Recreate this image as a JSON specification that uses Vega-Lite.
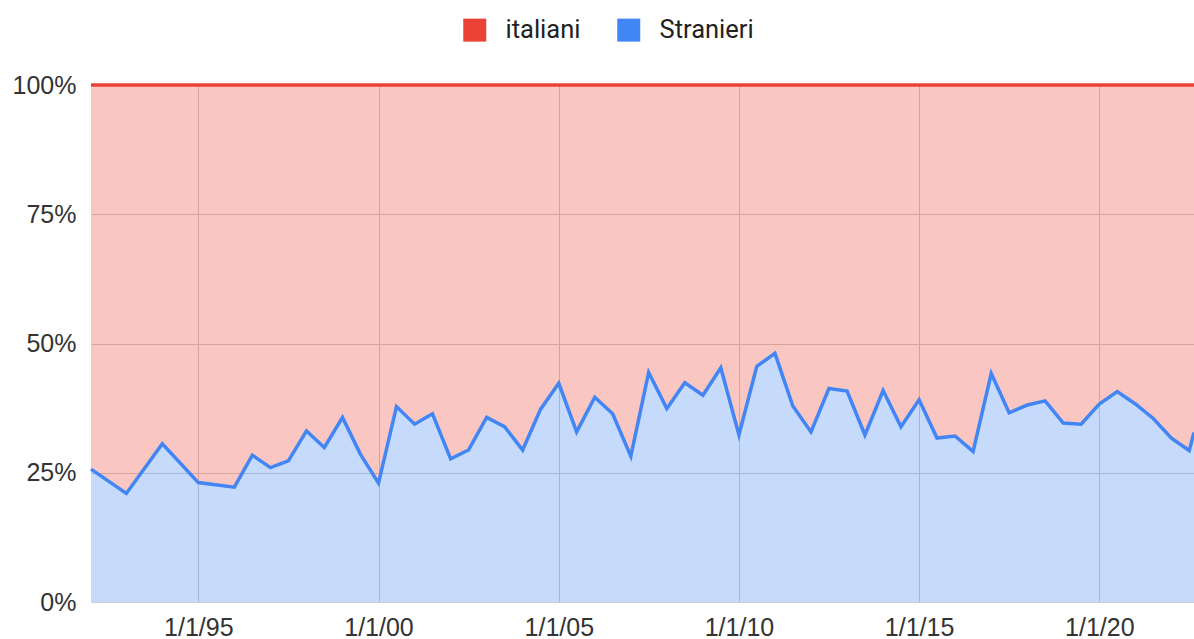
{
  "$schema": "https://vega.github.io/schema/vega-lite/v6.json",
  "width": 1103,
  "height": 517,
  "autosize": {"type": "none"},
  "padding": {"left": 91, "top": 85, "right": 0, "bottom": 37},
  "background": "white",
  "data": {
    "values": [
      {"data": "1992-01-09", "Stranieri": 25.7, "italiani": 74.3},
      {"data": "1993-01-01", "Stranieri": 21.0, "italiani": 79.0},
      {"data": "1994-01-01", "Stranieri": 30.6, "italiani": 69.4},
      {"data": "1995-01-01", "Stranieri": 23.1, "italiani": 76.9},
      {"data": "1996-01-01", "Stranieri": 22.2, "italiani": 77.8},
      {"data": "1996-07-01", "Stranieri": 28.4, "italiani": 71.6},
      {"data": "1997-01-01", "Stranieri": 26.0, "italiani": 74.0},
      {"data": "1997-07-01", "Stranieri": 27.3, "italiani": 72.7},
      {"data": "1998-01-01", "Stranieri": 33.1, "italiani": 66.9},
      {"data": "1998-07-01", "Stranieri": 29.9, "italiani": 70.1},
      {"data": "1999-01-01", "Stranieri": 35.7, "italiani": 64.3},
      {"data": "1999-07-01", "Stranieri": 28.6, "italiani": 71.4},
      {"data": "2000-01-01", "Stranieri": 23.0, "italiani": 77.0},
      {"data": "2000-07-01", "Stranieri": 37.8, "italiani": 62.2},
      {"data": "2001-01-01", "Stranieri": 34.4, "italiani": 65.6},
      {"data": "2001-07-01", "Stranieri": 36.4, "italiani": 63.6},
      {"data": "2002-01-01", "Stranieri": 27.7, "italiani": 72.3},
      {"data": "2002-07-01", "Stranieri": 29.4, "italiani": 70.6},
      {"data": "2003-01-01", "Stranieri": 35.7, "italiani": 64.3},
      {"data": "2003-07-01", "Stranieri": 33.9, "italiani": 66.1},
      {"data": "2004-01-01", "Stranieri": 29.4, "italiani": 70.6},
      {"data": "2004-07-01", "Stranieri": 37.3, "italiani": 62.7},
      {"data": "2005-01-01", "Stranieri": 42.3, "italiani": 57.7},
      {"data": "2005-07-01", "Stranieri": 32.9, "italiani": 67.1},
      {"data": "2006-01-01", "Stranieri": 39.6, "italiani": 60.4},
      {"data": "2006-07-01", "Stranieri": 36.4, "italiani": 63.6},
      {"data": "2007-01-01", "Stranieri": 28.2, "italiani": 71.8},
      {"data": "2007-07-01", "Stranieri": 44.4, "italiani": 55.6},
      {"data": "2008-01-01", "Stranieri": 37.4, "italiani": 62.6},
      {"data": "2008-07-01", "Stranieri": 42.4, "italiani": 57.6},
      {"data": "2009-01-01", "Stranieri": 40.0, "italiani": 60.0},
      {"data": "2009-07-01", "Stranieri": 45.3, "italiani": 54.7},
      {"data": "2010-01-01", "Stranieri": 32.3, "italiani": 67.7},
      {"data": "2010-07-01", "Stranieri": 45.6, "italiani": 54.4},
      {"data": "2011-01-01", "Stranieri": 48.1, "italiani": 51.9},
      {"data": "2011-07-01", "Stranieri": 37.9, "italiani": 62.1},
      {"data": "2012-01-01", "Stranieri": 32.9, "italiani": 67.1},
      {"data": "2012-07-01", "Stranieri": 41.3, "italiani": 58.7},
      {"data": "2013-01-01", "Stranieri": 40.8, "italiani": 59.2},
      {"data": "2013-07-01", "Stranieri": 32.3, "italiani": 67.7},
      {"data": "2014-01-01", "Stranieri": 40.9, "italiani": 59.1},
      {"data": "2014-07-01", "Stranieri": 33.9, "italiani": 66.1},
      {"data": "2015-01-01", "Stranieri": 39.1, "italiani": 60.9},
      {"data": "2015-07-01", "Stranieri": 31.7, "italiani": 68.3},
      {"data": "2016-01-01", "Stranieri": 32.1, "italiani": 67.9},
      {"data": "2016-07-01", "Stranieri": 29.1, "italiani": 70.9},
      {"data": "2017-01-01", "Stranieri": 44.2, "italiani": 55.8},
      {"data": "2017-07-01", "Stranieri": 36.6, "italiani": 63.4},
      {"data": "2018-01-01", "Stranieri": 38.1, "italiani": 61.9},
      {"data": "2018-07-01", "Stranieri": 38.9, "italiani": 61.1},
      {"data": "2019-01-01", "Stranieri": 34.6, "italiani": 65.4},
      {"data": "2019-07-01", "Stranieri": 34.4, "italiani": 65.6},
      {"data": "2020-01-01", "Stranieri": 38.3, "italiani": 61.7},
      {"data": "2020-07-01", "Stranieri": 40.7, "italiani": 59.3},
      {"data": "2021-01-01", "Stranieri": 38.3, "italiani": 61.7},
      {"data": "2021-07-01", "Stranieri": 35.5, "italiani": 64.5},
      {"data": "2022-01-01", "Stranieri": 31.7, "italiani": 68.3},
      {"data": "2022-07-01", "Stranieri": 29.3, "italiani": 70.7},
      {"data": "2022-08-18", "Stranieri": 32.8, "italiani": 67.2}
    ]
  },
  "transform": [{"fold": ["italiani", "Stranieri"], "as": ["gruppo", "quota"]}],
  "mark": {"type": "area", "fillOpacity": 0.3, "line": {"strokeWidth": 3.5}},
  "encoding": {
    "x": {
      "field": "data",
      "type": "temporal",
      "scale": {"domain": ["1992-01-09", "2022-08-18"]},
      "axis": {
        "title": null,
        "format": "%-m/%-d/%y",
        "values": ["1995-01-01", "2000-01-01", "2005-01-01", "2010-01-01", "2015-01-01", "2020-01-01"],
        "ticks": false,
        "domain": false,
        "grid": true,
        "gridColor": "#cccccc",
        "gridWidth": 1,
        "labelFont": "Liberation Sans",
        "labelFontSize": 25,
        "labelColor": "#333333",
        "labelPadding": 13
      }
    },
    "y": {
      "field": "quota",
      "type": "quantitative",
      "stack": "normalize",
      "scale": {"domain": [0, 1]},
      "axis": {
        "title": null,
        "values": [0, 0.25, 0.5, 0.75, 1],
        "format": ".0%",
        "ticks": false,
        "domain": false,
        "grid": true,
        "gridColor": "#cccccc",
        "gridWidth": 1,
        "labelFont": "Liberation Sans",
        "labelFontSize": 25,
        "labelColor": "#333333",
        "labelPadding": 15
      }
    },
    "color": {
      "field": "gruppo",
      "type": "nominal",
      "scale": {"domain": ["italiani", "Stranieri"], "range": ["#ea4335", "#4285f4"]},
      "legend": {
        "orient": "none",
        "legendX": 371,
        "legendY": -68,
        "direction": "horizontal",
        "title": null,
        "symbolType": "square",
        "symbolSize": 529,
        "symbolStrokeWidth": 0,
        "symbolOpacity": 1,
        "labelFont": "Roboto",
        "labelFontSize": 25.5,
        "labelColor": "#222222",
        "labelOffset": 18,
        "columnPadding": 35,
        "encode": {"symbols": {"update": {"fillOpacity": {"value": 1}, "opacity": {"value": 1}}}}
      }
    },
    "order": {"field": "gruppo", "sort": "ascending"}
  },
  "config": {"view": {"stroke": null}}
}
